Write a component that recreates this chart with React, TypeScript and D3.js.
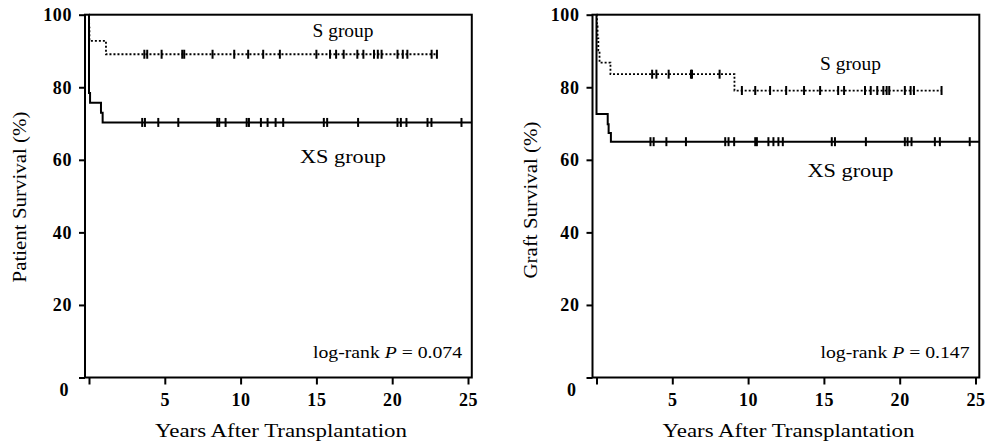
import React, { useEffect, useRef } from 'react'
import * as d3 from 'd3'

const yearTicks = [0, 5, 10, 15, 20, 25]
const survivalTicks = [0, 20, 40, 60, 80, 100]

// patient survival (left)
const patientSTimes = [0.01, 0.03, 1.12]
const patientSSurv = [96.4, 92.8, 89.1]
const patientSCensored = [
  3.65, 3.84, 4.79, 6.15, 6.28, 8.15, 9.58, 10.5, 11.49, 12.59, 15.0, 15.9, 16.3, 16.8, 17.7, 18.1, 18.8,
  19.05, 19.3, 20.35, 20.7, 21.0, 22.6, 22.95,
]
const patientXsTimes = [0, 0.07, 0.79, 0.9]
const patientXsSurv = [78.4, 75.7, 73.0, 70.3]
const patientXsCensored = [
  3.51, 3.69, 4.57, 5.89, 8.46, 8.59, 9.01, 10.4, 10.55, 11.34, 11.78, 12.31, 12.81, 15.49, 15.71, 17.75,
  20.35, 20.57, 20.94, 22.33, 22.59, 24.57,
]

// graft survival (right)
const graftSTimes = [0.03, 0.07, 0.12, 0.2, 0.92, 9.1]
const graftSSurv = [96.8, 93.5, 90.2, 86.8, 83.6, 79.1]
const graftSCensored = [
  3.67, 3.95, 4.76, 6.23, 6.3, 8.12, 9.59, 10.47, 11.45, 12.51, 13.69, 14.75, 15.94, 16.33, 17.71, 18.09,
  18.52, 18.92, 19.14, 19.31, 20.34, 20.72, 20.94, 22.76,
]
const graftXsTimes = [0, 0.74, 0.8, 0.95]
const graftXsSurv = [72.6, 69.8, 67.4, 65.0]
const graftXsCensored = [
  3.56, 3.77, 4.61, 5.9, 8.49, 8.71, 9.08, 10.47, 10.58, 11.34, 11.67, 12.0, 12.29, 15.52, 15.73, 17.77,
  20.34, 20.52, 20.78, 22.32, 22.65, 24.62,
]
const lastFollowUp = 25.25

const serif = "'Liberation Serif', 'Times New Roman', serif"

const Panel = ({ left, ylab, ylabLen, ylabX, ylabY, pValue, sLabelY, xsLabelY, s, xs }) => {
  const ref = useRef(null)

  useEffect(() => {
    const g = d3.select(ref.current)
    g.selectAll('*').remove()

    const x = d3.scaleLinear().domain([0, 25]).range([4, 383])
    const y = d3.scaleLinear().domain([0, 100]).range([377.5, 14.7])

    // frame
    g.append('rect')
      .attr('x', 0)
      .attr('y', y(100))
      .attr('width', x(lastFollowUp))
      .attr('height', y(0) - y(100))
      .attr('fill', 'none')
      .attr('stroke', '#000')
      .attr('stroke-width', 2)

    const yAxis = g
      .append('g')
      .call(d3.axisLeft(y).tickValues(survivalTicks).tickSize(6).tickPadding(7))
    yAxis.select('.domain').remove()
    yAxis
      .attr('font-family', serif)
      .attr('font-size', 18)
      .attr('font-weight', 'bold')
      .attr('letter-spacing', 0.6)
    yAxis.selectAll('line').attr('stroke-width', 2)
    yAxis
      .selectAll('.tick')
      .filter(d => d === 0)
      .select('text')
      .attr('transform', 'translate(-3,12)')

    const xAxis = g
      .append('g')
      .attr('transform', `translate(0,${y(0)})`)
      .call(
        d3
          .axisBottom(x)
          .tickValues(yearTicks)
          .tickSize(7)
          .tickPadding(9)
          .tickFormat(d => (d === 0 ? '' : String(d)))
      )
    xAxis.select('.domain').remove()
    xAxis
      .attr('font-family', serif)
      .attr('font-size', 18)
      .attr('font-weight', 'bold')
      .attr('letter-spacing', 0.6)
    xAxis.selectAll('line').attr('stroke-width', 2)

    // curves
    const line = d3
      .line()
      .x(d => x(d[0]))
      .y(d => y(d[1]))
      .curve(d3.curveStepAfter)

    const drawGroup = (grp, dash, width) => {
      const last = grp.surv[grp.surv.length - 1]
      const pts = [[0, 100], ...grp.times.map((t, i) => [t, grp.surv[i]]), [grp.end, last]]
      g.append('path')
        .attr('d', line(pts))
        .attr('fill', 'none')
        .attr('stroke', '#000')
        .attr('stroke-width', width)
        .attr('stroke-dasharray', dash)
      const survAt = t => {
        let v = 100
        grp.times.forEach((et, i) => {
          if (et <= t) v = grp.surv[i]
        })
        return v
      }
      g.append('g')
        .selectAll('line')
        .data(grp.censored)
        .enter()
        .append('line')
        .attr('x1', d => x(d))
        .attr('x2', d => x(d))
        .attr('y1', d => y(survAt(d)) - 4.5)
        .attr('y2', d => y(survAt(d)) + 4.5)
        .attr('stroke', '#000')
        .attr('stroke-width', 2)
    }
    drawGroup(xs, null, 2)
    drawGroup(s, '2,2', 1.8)

    // labels
    g.append('text')
      .text('S group')
      .attr('x', 258)
      .attr('y', sLabelY)
      .attr('text-anchor', 'middle')
      .attr('font-family', serif)
      .attr('font-size', 18)
      .attr('textLength', 61)
      .attr('lengthAdjust', 'spacingAndGlyphs')
    g.append('text')
      .text('XS group')
      .attr('x', 258)
      .attr('y', xsLabelY)
      .attr('text-anchor', 'middle')
      .attr('font-family', serif)
      .attr('font-size', 18)
      .attr('textLength', 86)
      .attr('lengthAdjust', 'spacingAndGlyphs')

    const pt = g
      .append('text')
      .attr('x', 377)
      .attr('y', 358)
      .attr('text-anchor', 'end')
      .attr('font-family', serif)
      .attr('font-size', 17)
      .attr('textLength', 149)
      .attr('lengthAdjust', 'spacingAndGlyphs')
    pt.append('tspan').text('log-rank ')
    pt.append('tspan').text('P').attr('font-style', 'italic')
    pt.append('tspan').text(` = ${pValue}`)

    g.append('text') // xlab
      .text('Years After Transplantation')
      .attr('x', 196)
      .attr('y', 437)
      .attr('text-anchor', 'middle')
      .attr('font-family', serif)
      .attr('font-size', 19)
      .attr('textLength', 252)
      .attr('lengthAdjust', 'spacingAndGlyphs')

    g.append('text') // ylab
      .text(ylab)
      .attr('transform', 'rotate(-90)')
      .attr('x', -ylabY)
      .attr('y', ylabX)
      .attr('text-anchor', 'middle')
      .attr('font-family', serif)
      .attr('font-size', 19)
      .attr('textLength', ylabLen)
      .attr('lengthAdjust', 'spacingAndGlyphs')
  }, [])

  return <g ref={ref} transform={`translate(${left},0)`} />
}

const App = () => (
  <div style={{ position: 'absolute', left: 0, top: 0 }}>
    <svg width={989} height={442} style={{ display: 'block', background: '#fff' }}>
      <Panel
        left={85}
        ylab="Patient Survival (%)"
        ylabLen={171}
        ylabX={-59}
        ylabY={197}
        pValue="0.074"
        sLabelY={37}
        xsLabelY={163}
        s={{ times: patientSTimes, surv: patientSSurv, censored: patientSCensored, end: 22.95 }}
        xs={{ times: patientXsTimes, surv: patientXsSurv, censored: patientXsCensored, end: lastFollowUp }}
      />
      <Panel
        left={592.5}
        ylab="Graft Survival (%)"
        ylabLen={157}
        ylabX={-55.5}
        ylabY={200}
        pValue="0.147"
        sLabelY={70}
        xsLabelY={177}
        s={{ times: graftSTimes, surv: graftSSurv, censored: graftSCensored, end: 22.76 }}
        xs={{ times: graftXsTimes, surv: graftXsSurv, censored: graftXsCensored, end: lastFollowUp }}
      />
    </svg>
  </div>
)

export default App
